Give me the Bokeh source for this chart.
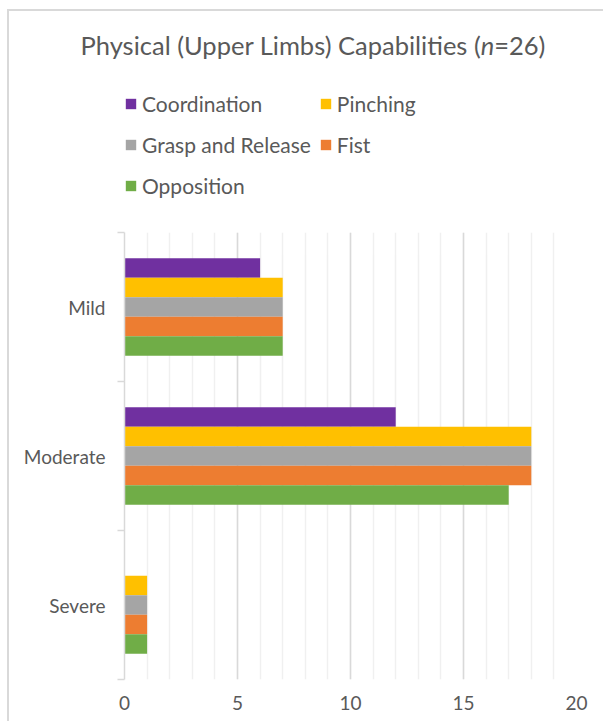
from bokeh.plotting import figure
from bokeh.models import (ColumnDataSource, Range1d, FixedTicker, SingleIntervalTicker,
                          Legend, LegendItem, Div)
from bokeh.layouts import column
from bokeh.transform import dodge
from bokeh.embed import file_html
from bokeh.resources import INLINE

# ---- data ----
title_text = "Physical (Upper Limbs) Capabilities"
n_total = 26
categories = ["Mild", "Moderate", "Severe"]
series_names = ["Coordination", "Pinching", "Grasp and Release", "Fist", "Opposition"]
coordination = [6, 12, 0]
pinching = [7, 18, 1]
grasp_release = [7, 18, 1]
fist = [7, 18, 1]
opposition = [7, 17, 1]
colors = ["#7030A0", "#FFC000", "#A5A5A5", "#ED7D31", "#70AD47"]

FONT = "Lato"
TXT = "#595959"
GRID = "#d9d9d9"
HEAD_H = 59
LEG_H = 168
TOTAL_H = 721

# ---- title (HTML, for the italic n) ----
title_html = (
    f'<div style="margin-left:23px;width:580px;padding-top:33px;height:26px;text-align:center;'
    f'font-family:Lato;font-size:25.5px;line-height:25.5px;color:{TXT};white-space:nowrap;">'
    f'{title_text} (<i>n</i>={n_total})</div>'
)
head = Div(text=title_html, width=603, height=HEAD_H, margin=0)

n = len(categories)
ypos = [n - i - 0.5 for i in range(n)]
data = dict(y=ypos, cat=categories, s0=coordination, s1=pinching,
            s2=grasp_release, s3=fist, s4=opposition)
src = ColumnDataSource(data)
bar_h = 0.1307

# ---- main chart ----
p = figure(width=603, height=TOTAL_H - HEAD_H - LEG_H, output_backend="svg", toolbar_location=None,
           title=None, x_range=Range1d(0, 20), y_range=Range1d(0, n),
           min_border_left=124, min_border_right=27, min_border_top=232 - HEAD_H - LEG_H,
           min_border_bottom=TOTAL_H - 679, margin=0)
p.outline_line_color = None
p.background_fill_color = "white"
p.border_fill_alpha = 0

for k, name in enumerate(series_names):
    off = (2 - k) * bar_h
    p.hbar(y=dodge("y", off), left=0, right=f"s{k}", height=bar_h, source=src,
           fill_color=colors[k], line_color=None)

# x axis
p.xaxis.ticker = SingleIntervalTicker(interval=5, num_minor_ticks=5)
p.xaxis.axis_line_color = None
p.xaxis.major_tick_line_color = None
p.xaxis.minor_tick_line_color = None
p.xaxis.major_tick_out = 0
p.xaxis.minor_tick_out = 0
p.xaxis.major_label_text_font = FONT
p.xaxis.major_label_text_font_size = "19px"
p.xaxis.major_label_text_color = TXT
p.xaxis.major_label_standoff = 16
p.xgrid.bounds = (-0.5, 20.5)
p.xgrid.grid_line_color = GRID
p.xgrid.grid_line_width = 1.5
p.xgrid.minor_grid_line_color = "#f0f0f0"
p.xgrid.minor_grid_line_width = 1.5
p.ygrid.grid_line_color = None

# y axis
p.yaxis.ticker = FixedTicker(ticks=ypos, minor_ticks=list(range(n + 1)))
p.yaxis.major_label_overrides = {y: c for y, c in zip(ypos, categories)}
p.yaxis.axis_line_color = GRID
p.yaxis.axis_line_width = 1.5
p.yaxis.major_tick_line_color = None
p.yaxis.major_tick_out = 0
p.yaxis.major_tick_in = 0
p.yaxis.minor_tick_line_color = GRID
p.yaxis.minor_tick_line_width = 1.5
p.yaxis.minor_tick_out = 7
p.yaxis.minor_tick_in = 0
p.yaxis.major_label_text_font = FONT
p.yaxis.major_label_text_font_size = "19px"
p.yaxis.major_label_text_color = TXT
p.yaxis.major_label_standoff = 12

# ---- legend strip (its own figure; the series are drawn outside its view) ----
lf = figure(width=603, height=LEG_H, output_backend="svg", toolbar_location=None,
            title=None, x_axis_type=None, y_axis_type=None,
            x_range=Range1d(-30, -20), y_range=Range1d(50, 60),
            min_border=0, margin=0)
lf.outline_line_color = None
lf.grid.visible = False
lf.background_fill_alpha = 0
lf.border_fill_alpha = 0
leg_renderers = []
for k, name in enumerate(series_names):
    off = (2 - k) * bar_h
    r = lf.hbar(y=dodge("y", off), left=0, right=f"s{k}", height=bar_h, source=src,
                fill_color=colors[k], line_color=None)
    leg_renderers.append(r)

items = [LegendItem(label=name, renderers=[r]) for name, r in zip(series_names, leg_renderers)]
legend = Legend(items=items, location=(0, 25), orientation="horizontal", ncols=2,
                padding=0, margin=0, spacing=8, label_height=33, label_standoff=5,
                glyph_width=13, glyph_height=13,
                label_text_font=FONT, label_text_font_size="21px", label_text_color=TXT,
                border_line_color=None, background_fill_alpha=0)
lf.add_layout(legend, "center")

# outer chart border (left and top edges) painted as the layout's background
border_css = {
    "background-color": "white",
    "background-image": f"linear-gradient({GRID},{GRID}), linear-gradient({GRID},{GRID})",
    "background-size": "2px 712px, 596px 2px",
    "background-position": "7px 9px, 7px 9px",
    "background-repeat": "no-repeat",
}
layout = column(head, lf, p, spacing=0, margin=0, styles=border_css)
open("out.html", "w").write(file_html(layout, INLINE))
